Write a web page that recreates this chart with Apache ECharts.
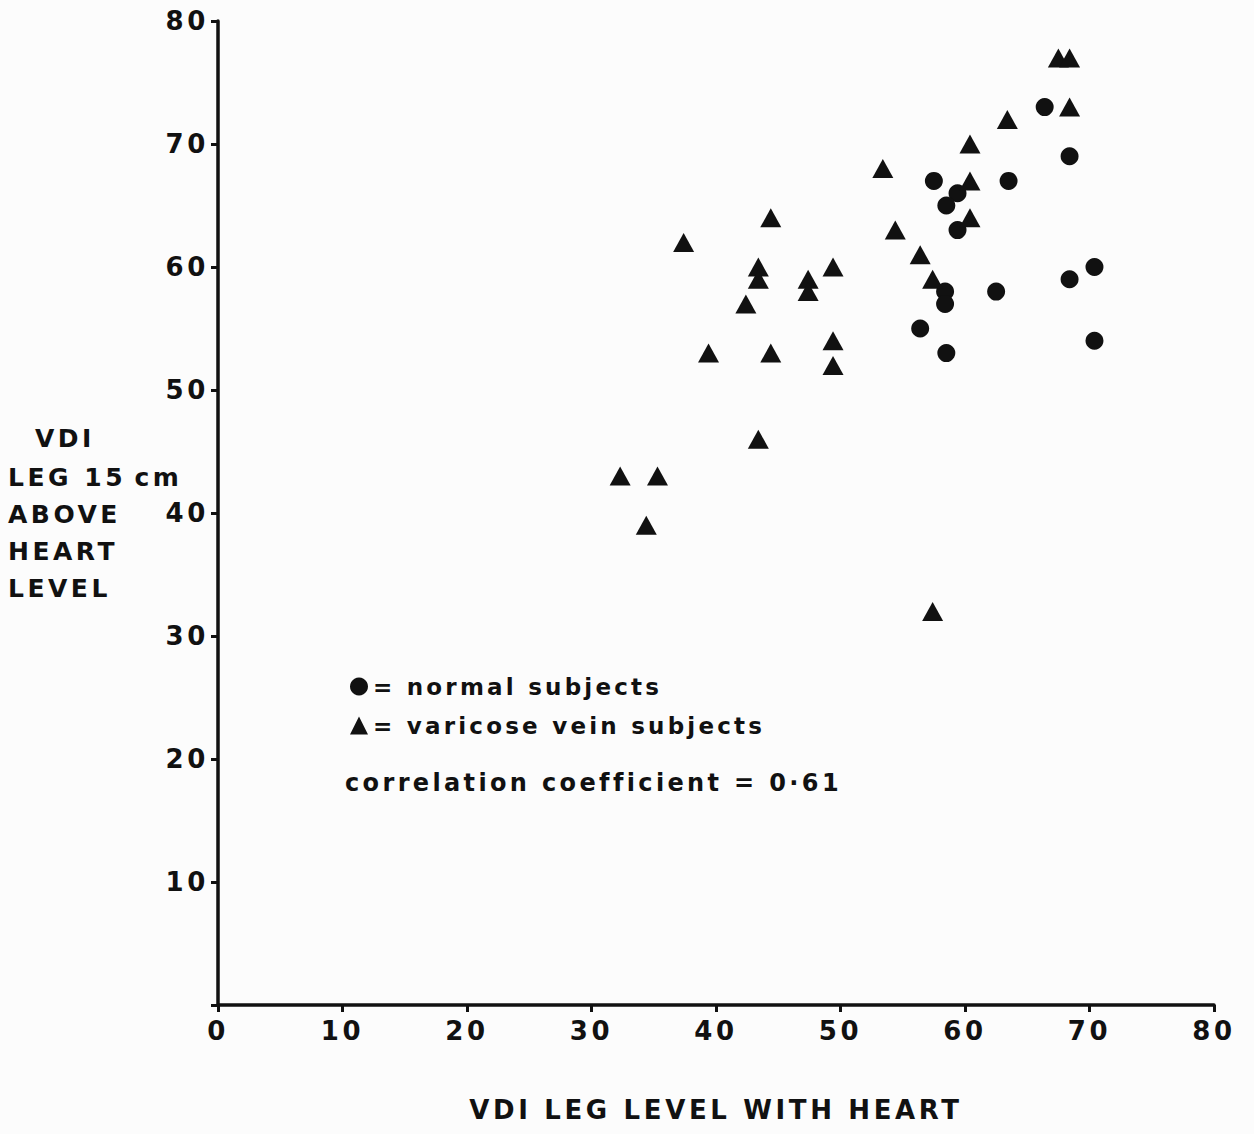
<!DOCTYPE html>
<html><head><meta charset="utf-8">
<script src="https://cdn.jsdelivr.net/npm/echarts@6/dist/echarts.min.js"></script>
<style>
html,body{margin:0;padding:0;background:#fcfcfc;}
#chart{width:1254px;height:1134px;}
#chart text{letter-spacing:0.14em;}
</style></head><body><div id="chart"></div>
<script>
// normal subjects (circles)
const normalX = [66.4, 68.4, 57.5, 63.5, 59.4, 58.5, 59.4, 70.4, 68.4, 58.4, 58.4, 62.5, 56.4, 58.5, 70.4];
const normalY = [73, 69, 67, 67, 66, 65, 63, 60, 59, 58, 57, 58, 55, 53, 54];
// varicose vein subjects (triangles)
const varicoseX = [32.3, 35.3, 34.4, 37.4, 39.4, 42.4, 43.4, 43.4, 44.4, 44.4, 43.4, 47.4, 47.4, 49.4, 49.4, 49.4, 53.4, 54.4, 56.4, 57.4, 57.4, 60.4, 60.4, 60.4, 63.4, 67.5, 68.4, 68.4];
const varicoseY = [43, 43, 39, 62, 53, 57, 60, 59, 64, 53, 46, 59, 58, 60, 54, 52, 68, 63, 61, 59, 32, 70, 67, 64, 72, 77, 77, 73];
const axisMin = 0, axisMax = 80, axisStep = 10;
const xTitle = 'VDI LEG LEVEL WITH HEART';
const yTitleLines = ['VDI', 'LEG 15\u2009cm', 'ABOVE', 'HEART', 'LEVEL'];
const seriesNames = ['normal subjects', 'varicose vein subjects'];
const noteText = 'correlation coefficient = 0·61';

const ink = '#111';
const fam = '"DejaVu Sans", sans-serif';
const chart = echarts.init(document.getElementById('chart'), null, {renderer: 'svg'});

const yTitleLeft = [35, 8, 8, 8, 8];
const yTitleTop = [426, 465, 502, 539, 576];
const graphics = yTitleLines.map((t, i) => ({
  type: 'text', left: yTitleLeft[i], top: yTitleTop[i],
  style: {text: t, font: 'bold 25px ' + fam, fill: ink}
}));
graphics.push({type: 'text', left: 345, top: 771, style: {text: noteText, font: 'bold 24px ' + fam, fill: ink}});

const axisCommon = {
  type: 'value', min: axisMin, max: axisMax, interval: axisStep,
  splitLine: {show: false},
  axisLine: {show: true, lineStyle: {color: ink, width: 3.5}},
  axisTick: {show: true, length: 7, lineStyle: {color: ink, width: 3}},
};

chart.setOption({
  backgroundColor: '#fcfcfc',
  animation: false,
  grid: {left: 218, right: 40, top: 21, bottom: 129},
  xAxis: Object.assign({}, axisCommon, {
    name: xTitle, nameLocation: 'middle', nameGap: 92,
    nameTextStyle: {color: ink, fontSize: 26, fontWeight: 'bold', fontFamily: fam},
    axisLabel: {color: ink, fontSize: 26, fontWeight: 'bold', fontFamily: fam, margin: 13}
  }),
  yAxis: Object.assign({}, axisCommon, {
    axisLabel: {color: ink, fontSize: 26, fontWeight: 'bold', fontFamily: fam, margin: 9,
      formatter: v => v === 0 ? '' : String(v)}
  }),
  legend: {
    orient: 'vertical', left: 345, top: 670, itemWidth: 18, itemHeight: 18, itemGap: 16,
    selectedMode: false,
    formatter: '= {name}',
    textStyle: {color: ink, fontSize: 23, fontWeight: 'bold', fontFamily: fam},
    data: [{name: seriesNames[0], icon: 'circle'}, {name: seriesNames[1], icon: 'triangle'}]
  },
  graphic: graphics,
  series: [
    {name: seriesNames[0], type: 'scatter', symbol: 'circle', symbolSize: 18,
     itemStyle: {color: ink, opacity: 1},
     data: normalX.map((x, i) => [x, normalY[i]])},
    {name: seriesNames[1], type: 'scatter', symbol: 'triangle', symbolSize: [21, 19],
     itemStyle: {color: ink, opacity: 1},
     data: varicoseX.map((x, i) => [x, varicoseY[i]])}
  ]
});
</script></body></html>
